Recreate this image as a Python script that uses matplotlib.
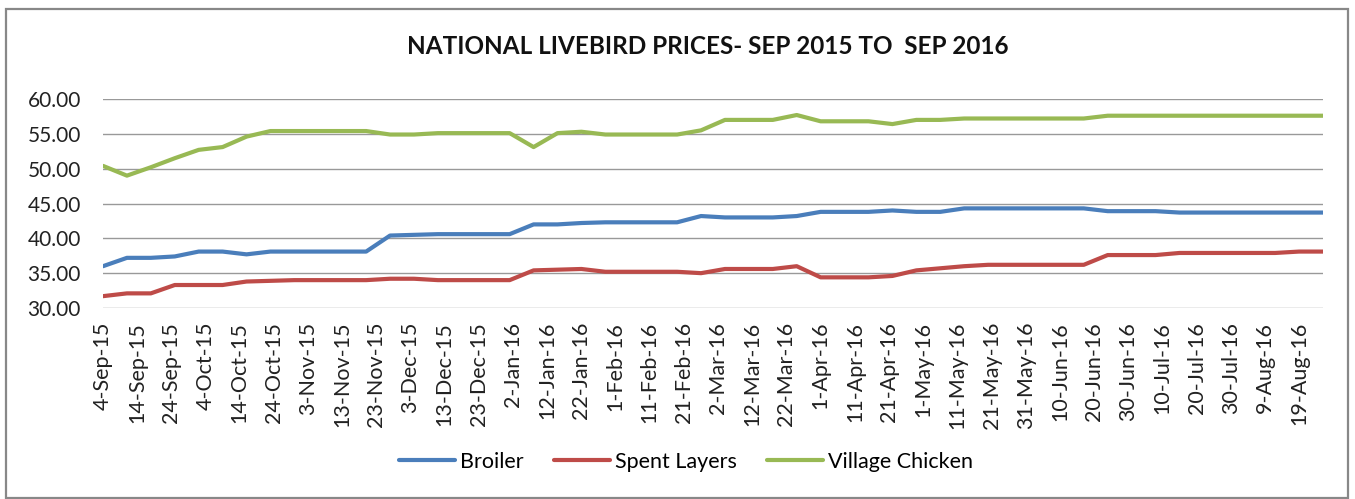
import matplotlib
matplotlib.use("Agg")
import matplotlib.pyplot as plt
import matplotlib.patches as mpatches
import pandas as pd

plt.rcParams['font.family'] = ['Lato', 'DejaVu Sans']

# weekly price observations
dates = pd.to_datetime([
    "2015-09-04", "2015-09-11", "2015-09-18", "2015-09-25",
    "2015-10-02", "2015-10-09", "2015-10-16", "2015-10-23", "2015-10-30",
    "2015-11-06", "2015-11-13", "2015-11-20", "2015-11-27",
    "2015-12-04", "2015-12-11", "2015-12-18", "2015-12-25",
    "2016-01-01", "2016-01-08", "2016-01-15", "2016-01-22", "2016-01-29",
    "2016-02-05", "2016-02-12", "2016-02-19", "2016-02-26",
    "2016-03-04", "2016-03-11", "2016-03-18", "2016-03-25",
    "2016-04-01", "2016-04-08", "2016-04-15", "2016-04-22", "2016-04-29",
    "2016-05-06", "2016-05-13", "2016-05-20", "2016-05-27",
    "2016-06-03", "2016-06-10", "2016-06-17", "2016-06-24",
    "2016-07-01", "2016-07-08", "2016-07-15", "2016-07-22", "2016-07-29",
    "2016-08-05", "2016-08-12", "2016-08-19", "2016-08-26",
])

broiler = [
    36.0, 37.2, 37.2, 37.4, 38.1, 38.1, 37.7, 38.1, 38.1, 38.1, 38.1, 38.1,
    40.4, 40.5, 40.6, 40.6, 40.6, 40.6, 42.0, 42.0, 42.2, 42.3, 42.3, 42.3,
    42.3, 43.2, 43.0, 43.0, 43.0, 43.2, 43.8, 43.8, 43.8, 44.0, 43.8, 43.8,
    44.3, 44.3, 44.3, 44.3, 44.3, 44.3, 43.9, 43.9, 43.9, 43.7, 43.7, 43.7,
    43.7, 43.7, 43.7, 43.7,
]
spent_layers = [
    31.7, 32.1, 32.1, 33.3, 33.3, 33.3, 33.8, 33.9, 34.0, 34.0, 34.0, 34.0,
    34.2, 34.2, 34.0, 34.0, 34.0, 34.0, 35.4, 35.5, 35.6, 35.2, 35.2, 35.2,
    35.2, 35.0, 35.6, 35.6, 35.6, 36.0, 34.4, 34.4, 34.4, 34.6, 35.4, 35.7,
    36.0, 36.2, 36.2, 36.2, 36.2, 36.2, 37.6, 37.6, 37.6, 37.9, 37.9, 37.9,
    37.9, 37.9, 38.1, 38.1,
]
village_chicken = [
    50.4, 49.0, 50.2, 51.5, 52.7, 53.1, 54.6, 55.4, 55.4, 55.4, 55.4, 55.4,
    54.9, 54.9, 55.1, 55.1, 55.1, 55.1, 53.1, 55.1, 55.3, 54.9, 54.9, 54.9,
    54.9, 55.5, 57.0, 57.0, 57.0, 57.7, 56.8, 56.8, 56.8, 56.4, 57.0, 57.0,
    57.2, 57.2, 57.2, 57.2, 57.2, 57.2, 57.6, 57.6, 57.6, 57.6, 57.6, 57.6,
    57.6, 57.6, 57.6, 57.6,
]

series = [
    ("Broiler", broiler, "#4A7EBB"),
    ("Spent Layers", spent_layers, "#BE4B48"),
    ("Village Chicken", village_chicken, "#98B954"),
]

W, H = 1355, 499
fig = plt.figure(figsize=(W / 100, H / 100), dpi=100)
ax = fig.add_axes([103 / W, 1 - 308 / H, 1220 / W, 209 / H])

for name, vals, col in series:
    ax.plot(dates, vals, color=col, lw=3.0, label=name, zorder=3,
            solid_capstyle="round", solid_joinstyle="round")

ax.set_ylim(30, 60)
ax.set_yticks(range(30, 61, 5))
ax.set_yticklabels([f"{v:.2f}" for v in range(30, 61, 5)])
ax.set_xlim(dates[0], dates[-1])

# ticks every 10 days from first date
ticks = pd.date_range(dates[0], "2016-08-19", freq="10D")
ax.set_xticks(ticks)
ax.set_xticklabels([f"{d.day}-{d.strftime('%b-%y')}" for d in ticks],
                   rotation=90)

ax.tick_params(axis="y", length=0, pad=16, labelsize=15, colors="#222222")
ax.tick_params(axis="x", length=0, pad=10, labelsize=15.5, colors="#222222")
ax.grid(axis="y", color="#999999", lw=1.0)
ax.set_axisbelow(True)
for s in ax.spines.values():
    s.set_visible(False)

fig.text(708 / W, 1 - 47 / H, "NATIONAL LIVEBIRD PRICES- SEP 2015 TO  SEP 2016",
         ha="center", va="center", fontsize=17.5, fontweight="bold", color="#111111")

fig.legend(loc="center", bbox_to_anchor=(686 / W, 1 - 462 / H), ncol=3,
           frameon=False, fontsize=15.5, handlelength=2.6, handletextpad=0.25,
           columnspacing=1.4)

# outer chart border
fig.patches.append(mpatches.Rectangle((6 / W, 1 / H), 1342 / W, 489 / H,
                                      transform=fig.transFigure, fill=False,
                                      ec="#888888", lw=1.6))

fig.savefig("out.png", dpi=100)
